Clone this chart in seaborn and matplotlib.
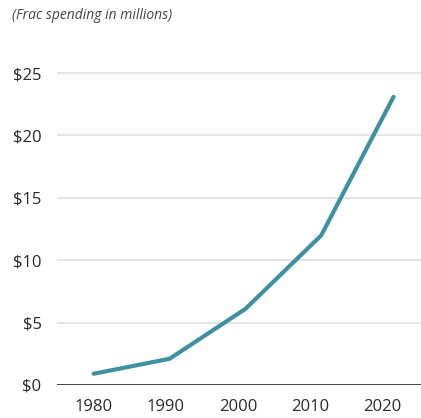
import pandas as pd
import seaborn as sns
import matplotlib.pyplot as plt

# valeurs
years = [1980, 1990.5, 2001, 2011.5, 2021.5]
spending = [0.9, 2.1, 6.1, 12.0, 23.1]
tick_years = [1980, 1990, 2000, 2010, 2020]
tick_values = [0, 5, 10, 15, 20, 25]
tick_labels = ["$0", "$5", "$10", "$15", "$20", "$25"]

df = pd.DataFrame({"year": years, "spending": spending})

sns.set_style("white")
plt.rcParams["font.family"] = ["Open Sans", "DejaVu Sans"]

fig = plt.figure(figsize=(4.21, 4.18), dpi=100)
ax = fig.add_axes([0.135, 0.079, 0.865, 0.776])

sns.lineplot(data=df, x="year", y="spending", ax=ax, color="#3f91a2",
             linewidth=3, solid_capstyle="round", solid_joinstyle="round")

ax.set_xlim(1974.9, 2025.3)
ax.set_ylim(0, 26)
ax.set_xticks(tick_years)
ax.set_xticklabels([str(y) for y in tick_years])
ax.set_yticks(tick_values)
ax.set_yticklabels(tick_labels)
ax.set_xlabel("")
ax.set_ylabel("")

for v in tick_values[1:]:
    ax.axhline(v, color="#e2e2e2", linewidth=1.3, zorder=0)
ax.axhline(0, color="#444444", linewidth=1.4, zorder=1)

sns.despine(ax=ax, left=True, bottom=True)
ax.tick_params(axis="both", length=0, labelsize=12, colors="#2a2a2a")
ax.tick_params(axis="y", pad=11)
ax.tick_params(axis="x", pad=10)

fig.text(0.028, 0.962, "(Frac spending in millions)", fontsize=10,
         style="italic", color="#444444", va="center", ha="left")

fig.savefig("out.png", dpi=100)
